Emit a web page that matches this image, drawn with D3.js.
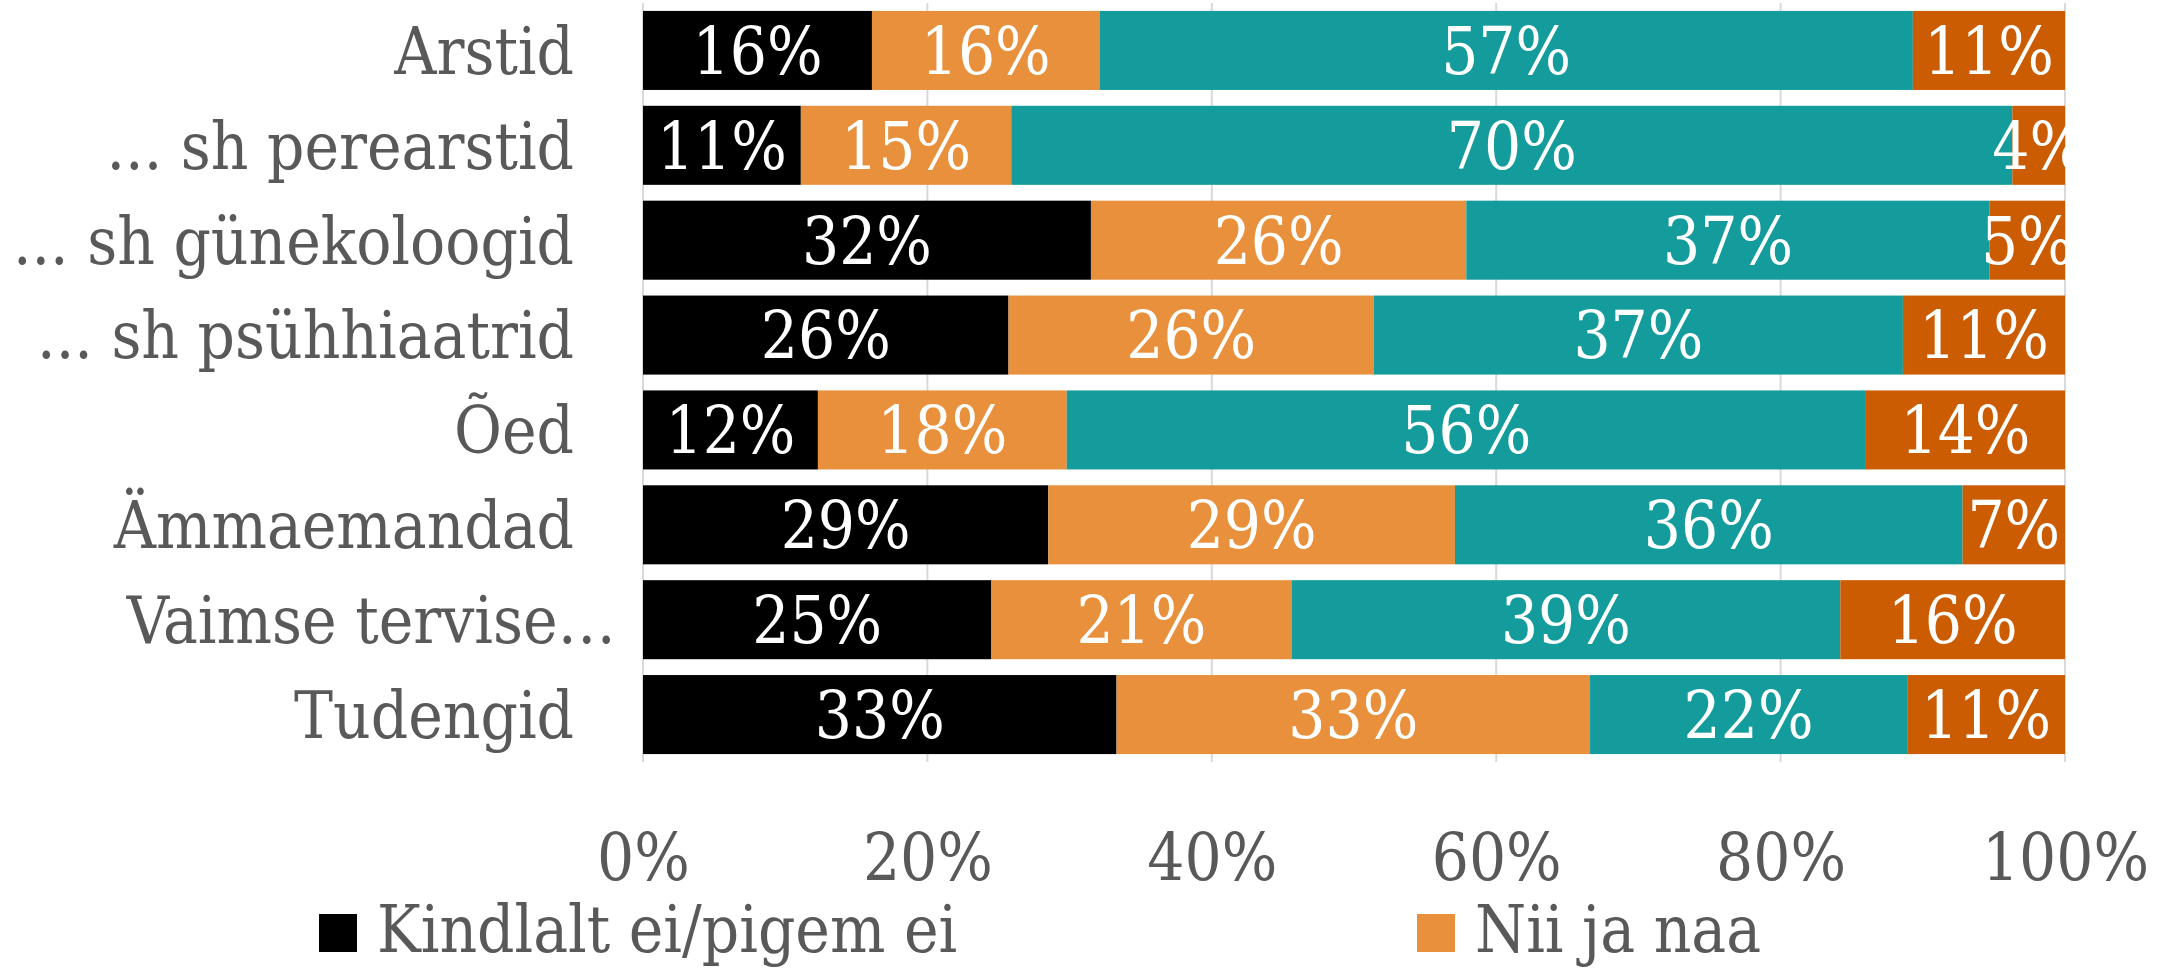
<!DOCTYPE html>
<html>
<head>
<meta charset="utf-8">
<script src="https://cdn.jsdelivr.net/npm/d3@7"></script>
<style>
  body { margin: 0; background: #fff; }
  text { font-family: "DejaVu Serif Condensed", "DejaVu Serif", serif; font-stretch: condensed; }
</style>
</head>
<body>
<svg width="2169" height="970"></svg>
<script>
// categories (top to bottom)
var categories = ["Arstid", "... sh perearstid", "... sh günekoloogid", "... sh psühhiaatrid",
                  "Õed", "Ämmaemandad", "Vaimse tervise…", "Tudengid"];

// series, values in %
var seriesNames = ["Kindlalt ei/pigem ei", "Nii ja naa", "Pigem jah/kindlalt jah", "Ei oska öelda"];
var kindlaltEi = [16.1, 11.1, 31.5, 25.7, 12.3, 28.5, 24.5, 33.3];
var niiJaNaa   = [16.0, 14.8, 26.4, 25.7, 17.5, 28.6, 21.1, 33.3];
var pigemJah   = [57.2, 70.4, 36.8, 37.2, 56.2, 35.7, 38.6, 22.3];
var eiOska     = [10.7,  3.7,  5.3, 11.4, 14.0,  7.2, 15.8, 11.1];

var xTicks = [0, 0.2, 0.4, 0.6, 0.8, 1];
var colors = ["#000000", "#E8903C", "#149C9C", "#CC5C02"];

var svg = d3.select("svg");
var fontSize = 65;
var textColor = "#595959";

var x = d3.scaleLinear().domain([0, 1]).range([643, 2065]);
var y = d3.scaleBand().domain(categories).range([3, 762]).paddingInner(0.167).paddingOuter(0.0835);

var rows = categories.map(function(c, i) {
    return { cat: c, vals: [kindlaltEi[i], niiJaNaa[i], pigemJah[i], eiOska[i]] };
});

// gridlines
svg.append("g")
    .selectAll("line")
    .data(xTicks)
    .enter()
    .append("line")
    .attr("x1", function(d) { return x(d); })
    .attr("x2", function(d) { return x(d); })
    .attr("y1", y.range()[0])
    .attr("y2", y.range()[1])
    .attr("stroke", "#D9D9D9")
    .attr("stroke-width", 2);

// x axis labels
var xAxis = svg.append("g")
    .attr("transform", "translate(0,880)")
    .call(d3.axisBottom(x).tickValues(xTicks).tickFormat(d3.format(".0%")).tickSize(0).tickPadding(0));
xAxis.select(".domain").remove();
xAxis.selectAll("text")
    .attr("dy", 0)
    .attr("font-size", fontSize)
    .attr("fill", textColor)
    .style("font-family", null);

// category labels
svg.append("g")
    .selectAll("text")
    .data(categories)
    .enter()
    .append("text")
    .attr("x", 574)
    .attr("dx", function(d) { return d.slice(-1) == "…" ? 42 : 0; })
    .attr("y", function(d) { return y(d) + y.bandwidth() / 2; })
    .attr("dy", "0.36em")
    .attr("text-anchor", "end")
    .attr("font-size", fontSize)
    .attr("fill", textColor)
    .text(function(d) { return d; });

// stacked segments
var segs = [];
rows.forEach(function(r) {
    var total = d3.sum(r.vals), acc = 0;
    r.vals.forEach(function(v, k) {
        segs.push({ cat: r.cat, k: k, v: v, x0: acc / total, x1: (acc + v) / total });
        acc += v;
    });
});

var g = svg.append("g");
g.selectAll("rect")
    .data(segs)
    .enter()
    .append("rect")
    .attr("x", function(d) { return x(d.x0); })
    .attr("width", function(d) { return x(d.x1) - x(d.x0); })
    .attr("y", function(d) { return y(d.cat); })
    .attr("height", y.bandwidth())
    .attr("fill", function(d) { return colors[d.k]; });

g.selectAll("text")
    .data(segs)
    .enter()
    .append("text")
    .attr("x", function(d) { return (x(d.x0) + x(d.x1)) / 2; })
    .attr("y", function(d) { return y(d.cat) + y.bandwidth() / 2; })
    .attr("dy", "0.36em")
    .attr("text-anchor", "middle")
    .attr("font-size", fontSize)
    .attr("fill", "#ffffff")
    .text(function(d) { return Math.round(d.v) + "%"; });

// legend (only the first row fits in the picture)
var legend = svg.append("g")
    .selectAll("g")
    .data(seriesNames.slice(0, 2))
    .enter()
    .append("g")
    .attr("transform", function(d, i) { return "translate(" + (319 + i * 1098) + ",914)"; });

legend.append("rect")
    .attr("width", 38)
    .attr("height", 38)
    .attr("fill", function(d, i) { return colors[i]; });

legend.append("text")
    .attr("x", 58)
    .attr("y", 38)
    .attr("font-size", fontSize)
    .attr("fill", textColor)
    .text(function(d) { return d; });
</script>
</body>
</html>
